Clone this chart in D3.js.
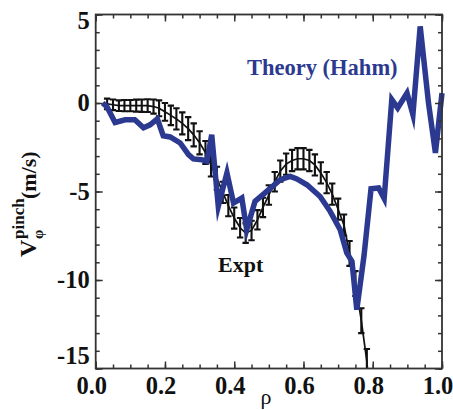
<!DOCTYPE html>
<html>
<head>
<meta charset="utf-8">
<script src="https://cdn.jsdelivr.net/npm/d3@7/dist/d3.min.js"></script>
<style>
  html, body { margin: 0; padding: 0; background: #fff; }
  svg { display: block; }
  svg text { font-family: 'Liberation Serif'; }
</style>
</head>
<body>
<svg id="chart" width="453" height="410"></svg>
<script>
// ---- data ----
const exptRho = [0.033,0.050,0.067,0.083,0.100,0.117,0.133,0.150,0.167,0.183,0.200,0.217,0.233,0.250,0.267,0.283,0.300,0.317,0.333,0.350,0.367,0.383,0.400,0.417,0.433,0.450,0.467,0.483,0.500,0.517,0.533,0.550,0.567,0.583,0.600,0.617,0.633,0.650,0.667,0.683,0.700,0.717,0.733,0.750,0.767,0.783];
const exptV   = [-0.05,-0.1,-0.15,-0.15,-0.15,-0.15,-0.15,-0.15,-0.2,-0.3,-0.5,-0.7,-0.9,-1.15,-1.45,-1.8,-2.25,-2.8,-3.5,-4.25,-5.05,-5.8,-6.5,-7.05,-7.35,-7.2,-6.6,-5.9,-5.2,-4.45,-3.85,-3.45,-3.25,-3.15,-3.15,-3.25,-3.5,-3.95,-4.5,-5.15,-6.0,-6.9,-8.5,-10.2,-12.3,-14.6];
const exptErr = [0.3,0.3,0.3,0.32,0.32,0.34,0.35,0.36,0.4,0.45,0.5,0.55,0.6,0.62,0.65,0.65,0.65,0.65,0.65,0.65,0.6,0.6,0.6,0.55,0.55,0.55,0.55,0.55,0.55,0.55,0.6,0.6,0.6,0.6,0.6,0.6,0.6,0.6,0.6,0.6,0.6,0.6,0.7,0.7,0.7,0.7];
const exptTailRho = [0.783, 0.80];
const exptTailV   = [-14.6, -18.5];

const theoryRho = [0.02,0.032,0.056,0.085,0.113,0.138,0.157,0.178,0.195,0.215,0.244,0.268,0.282,0.306,0.321,0.335,0.354,0.379,0.398,0.422,0.436,0.46,0.494,0.533,0.562,0.581,0.61,0.648,0.677,0.706,0.725,0.74,0.754,0.775,0.795,0.817,0.833,0.855,0.872,0.899,0.916,0.937,0.961,0.981,1.0];
const theoryV   = [0,-0.2,-1.1,-0.95,-0.95,-1.4,-1.23,-0.9,-1.85,-1.92,-2.26,-2.92,-3.16,-3.2,-3.3,-1.8,-5.84,-3.95,-5.65,-5.37,-7.16,-5.56,-4.99,-4.33,-4.15,-4.29,-4.62,-5.28,-6.12,-7.16,-8.47,-8.95,-11.68,-8.6,-4.85,-4.8,-5.4,0.19,-0.28,0.56,-0.66,4.33,0,-2.82,0.56];

const xMajor = [0,0.2,0.4,0.6,0.8,1.0];
const xTickLabels = ["0.0","0.2","0.4","0.6","0.8","1.0"];
const xMinor = d3.range(0, 1.0001, 0.05);
const yMajor = [-15,-10,-5,0,5];
const yTickLabels = ["-15","-10","-5","0","5"];
const yMinor = d3.range(-15, 5.001, 1);

// ---- layout ----
const FONT = "'Liberation Serif'";
const L = 95.7, R = 442, T = 14.5, B = 368.5;
const svg = d3.select("#chart");
const x = d3.scaleLinear().domain([0,1]).range([L,R]);
const y = d3.scaleLinear().domain([-15,5]).range([B,T]);
const blue = "#2b3990";
const axisColor = "#333";

svg.append("defs").append("clipPath").attr("id","clip")
  .append("rect").attr("x",L).attr("y",T).attr("width",R-L).attr("height",B-T);
const plot = svg.append("g").attr("clip-path","url(#clip)");

const line = d3.line().x(d=>x(d[0])).y(d=>y(d[1]));
const exptPts = exptRho.map((r,i)=>[r, exptV[i]]);
const tailPts = exptTailRho.map((r,i)=>[r, exptTailV[i]]);
plot.append("path").datum(exptPts.concat(tailPts.slice(1)))
  .attr("d", line).attr("fill","none").attr("stroke","#111").attr("stroke-width",1.7);

const eb = plot.append("g").attr("stroke","#111").attr("stroke-width",2.1);
exptRho.forEach((r,i)=>{
  const cx = x(r), y1 = y(exptV[i]+exptErr[i]), y2 = y(exptV[i]-exptErr[i]);
  eb.append("line").attr("x1",cx).attr("x2",cx).attr("y1",y1).attr("y2",y2);
  eb.append("line").attr("x1",cx-3.2).attr("x2",cx+3.2).attr("y1",y1).attr("y2",y1);
  eb.append("line").attr("x1",cx-3.2).attr("x2",cx+3.2).attr("y1",y2).attr("y2",y2);
});

const thPts = theoryRho.map((r,i)=>[r, theoryV[i]]);
svg.append("path").datum(thPts)
  .attr("d", line).attr("fill","none").attr("stroke",blue)
  .attr("stroke-width",5.5).attr("stroke-linejoin","miter").attr("stroke-miterlimit",6);

function styleAxis(g){
  g.attr("font-family", FONT);
  g.select(".domain").remove();
  g.selectAll("line").attr("stroke",axisColor).attr("stroke-width",1.5);
  g.selectAll("text").attr("fill","#111").attr("font-size",24.5).attr("font-weight","bold")
    .attr("font-family",FONT);
}
svg.append("g").attr("transform",`translate(0,${B})`)
  .call(d3.axisBottom(x).tickValues(xMinor).tickSize(-4).tickFormat("")).call(styleAxis);
const xb = svg.append("g").attr("transform",`translate(0,${B})`)
  .call(d3.axisBottom(x).tickValues(xMajor).tickSize(-7).tickPadding(8)
    .tickFormat((d,i)=>xTickLabels[i])).call(styleAxis);
xb.selectAll("text").attr("dx",-4.5);
svg.append("g").attr("transform",`translate(0,${T})`)
  .call(d3.axisTop(x).tickValues(xMinor).tickSize(-4).tickFormat("")).call(styleAxis);
svg.append("g").attr("transform",`translate(0,${T})`)
  .call(d3.axisTop(x).tickValues(xMajor).tickSize(-7).tickFormat("")).call(styleAxis);
svg.append("g").attr("transform",`translate(${L},0)`)
  .call(d3.axisLeft(y).tickValues(yMinor).tickSize(-4).tickFormat("")).call(styleAxis);
const yl = svg.append("g").attr("transform",`translate(${L},0)`)
  .call(d3.axisLeft(y).tickValues(yMajor).tickSize(-7).tickPadding(6)
    .tickFormat((d,i)=>yTickLabels[i])).call(styleAxis);
yl.selectAll(".tick").filter(d=>d===5).select("text").attr("y",6);
yl.selectAll(".tick").filter(d=>d===-15).select("text").attr("y",-13);
svg.append("g").attr("transform",`translate(${R},0)`)
  .call(d3.axisRight(y).tickValues(yMinor).tickSize(-4).tickFormat("")).call(styleAxis);
svg.append("g").attr("transform",`translate(${R},0)`)
  .call(d3.axisRight(y).tickValues(yMajor).tickSize(-7).tickFormat("")).call(styleAxis);

svg.append("rect").attr("x",L).attr("y",T).attr("width",R-L).attr("height",B-T)
  .attr("fill","none").attr("stroke",axisColor).attr("stroke-width",1.8);

svg.append("text").attr("x",247).attr("y",75).attr("fill",blue).attr("font-family",FONT)
  .attr("font-size",22.5).attr("font-weight","bold").text("Theory (Hahm)");
svg.append("text").attr("x",218).attr("y",272).attr("fill","#111").attr("font-family",FONT)
  .attr("font-size",22).attr("font-weight","bold").text("Expt");

svg.append("text").attr("x",266).attr("y",404).attr("text-anchor","middle").attr("fill","#111")
  .attr("font-family",FONT).attr("font-size",22).text("ρ");

const yg = svg.append("g").attr("transform","translate(36,257) rotate(-90)")
  .attr("fill","#111").attr("font-weight","bold").attr("font-family",FONT);
yg.append("text").attr("x",0).attr("y",0).attr("font-size",24).text("V");
yg.append("text").attr("x",18).attr("y",7).attr("font-size",15).text("φ");
yg.append("text").attr("x",18).attr("y",-12).attr("font-size",17).text("pinch");
yg.append("text").attr("x",58).attr("y",0).attr("font-size",22).text("(m/s)");
</script>
</body>
</html>
